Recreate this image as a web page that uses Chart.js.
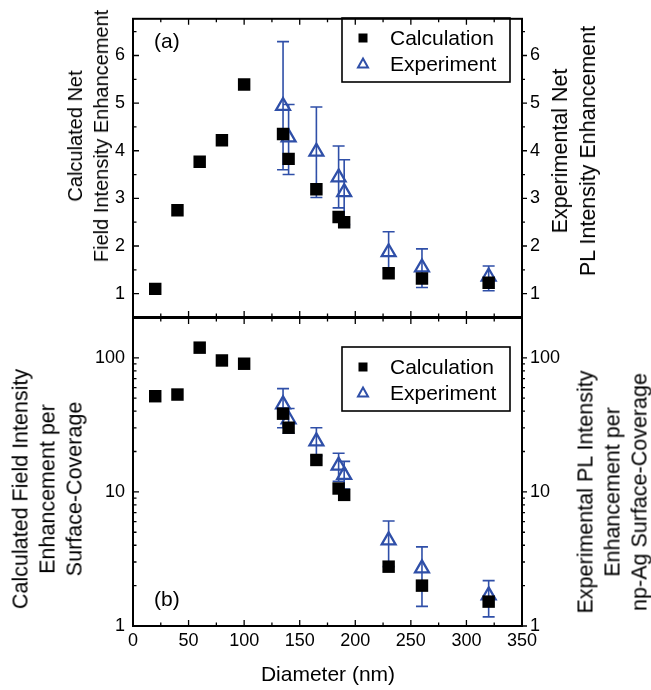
<!DOCTYPE html>
<html>
<head>
<meta charset="utf-8">
<script src="https://cdn.jsdelivr.net/npm/chart.js@4.4.0/dist/chart.umd.min.js"></script>
<style>
  body { margin: 0; background: #fff; }
  #wrap { position: relative; width: 651px; height: 690px; font-family: "Liberation Sans", Arial, sans-serif; }
  canvas { position: absolute; left: 0; top: 0; }
  .ttl { position: absolute; white-space: nowrap; text-align: center; font-size: 20px; line-height: 26px; color: #000;
         transform: translate(-50%, -50%) rotate(-90deg); }
</style>
</head>
<body>
<div id="wrap">
  <canvas id="top-chart" width="651" height="690"></canvas>
  <canvas id="bot-chart" width="651" height="690"></canvas>
  <div class="ttl" style="left:88px;top:136px">Calculated Net<br>Field Intensity Enhancement</div>
  <div class="ttl" style="left:574px;top:151px;font-size:21.5px;line-height:28px">Experimental Net<br>PL Intensity Enhancement</div>
  <div class="ttl" style="left:48px;top:489px;font-size:21.5px;line-height:27px">Calculated Field Intensity<br>Enhancement per<br>Surface-Coverage</div>
  <div class="ttl" style="left:613px;top:492px;font-size:21.5px;line-height:27px">Experimental PL Intensity<br>Enhancement per<br>np-Ag Surface-Coverage</div>
  <div class="ttl" style="left:328px;top:674px;font-size:21px;transform:translate(-50%,-50%)">Diameter (nm)</div>
</div>
<script>
// ======================= DATA =======================
const diameters    = [20, 40, 60, 80, 100, 135, 140, 165, 185, 190, 230, 260, 320];
const expDiameters = [135, 140, 165, 185, 190, 230, 260, 320];

// (a) net enhancement
const calcNet     = [1.10, 2.75, 3.77, 4.22, 5.39, 4.35, 3.83, 3.19, 2.61, 2.50, 1.43, 1.32, 1.23];
const expNet      = [4.94, 4.28, 3.98, 3.44, 3.13, 1.87, 1.55, 1.36];
const expNetLow   = [3.60, 3.50, 3.02, 2.80, 2.45, 1.53, 1.13, 1.06];
const expNetHigh  = [6.29, 4.97, 4.92, 4.10, 3.81, 2.30, 1.94, 1.58];

// (b) enhancement per surface coverage
const calcPerCov     = [51.7, 53.2, 119, 95.5, 90.3, 38.3, 30.1, 17.3, 10.6, 9.5, 2.77, 2.0, 1.52];
const expPerCov      = [44.9, 34.8, 23.8, 15.7, 13.4, 4.35, 2.69, 1.69];
const expPerCovLow   = [30.1, 27.4, 18.6, 12.0, 10.5, 2.77, 1.40, 1.17];
const expPerCovHigh  = [58.9, 41.9, 30.1, 19.4, 16.9, 6.07, 3.89, 2.18];

// ticks
const xMajor = [0, 50, 100, 150, 200, 250, 300, 350];
const xMinor = [25, 75, 125, 175, 225, 275, 325];
const yTopMajor = [1, 2, 3, 4, 5, 6];
const yTopMinor = [0.5, 1.5, 2.5, 3.5, 4.5, 5.5, 6.5];
const yLogMajor = [1, 10, 100];
const yLogMinor = [2, 3, 4, 5, 6, 7, 8, 9, 20, 30, 40, 50, 60, 70, 80, 90, 200];

const BLUE = '#2f4fa8';
const FONT = '"Liberation Sans", Arial, sans-serif';

// ======================= HELPERS =======================
const pts = (xs, ys) => xs.map((x, i) => ({ x: x, y: ys[i] }));

function yAxis(type, min, max, pos, width, majors) {
  return {
    type: type, min: min, max: max, position: pos,
    grid: { display: false, drawTicks: false },
    border: { display: false },
    afterFit: s => { s.width = width; },
    afterBuildTicks: s => { s.ticks = majors.map(v => ({ value: v })); },
    ticks: { color: '#000', font: { family: FONT, size: 18 }, padding: pos === 'left' ? 8 : 8,
             callback: v => String(v) }
  };
}

function datasets(calc, exp) {
  return [
    { label: 'Calculation', data: pts(diameters, calc), pointStyle: 'rect', pointRadius: 8.8,
      backgroundColor: '#000', borderWidth: 0, showLine: false },
    { label: 'Experiment', data: pts(expDiameters, exp), pointStyle: 'triangle', pointRadius: 8,
      backgroundColor: 'rgba(0,0,0,0)', borderColor: BLUE, borderWidth: 2.3, showLine: false }
  ];
}

// frame, inward ticks, error bars, legend, panel letter
function panelPlugin(id, yMaj, yMin, lo, hi, legendTop, letter, letterY) {
  return {
    id: id,
    beforeDatasetsDraw(chart) {
      const { ctx } = chart;
      const xs = chart.scales.x, ys = chart.scales.y;
      ctx.save();
      ctx.strokeStyle = BLUE; ctx.lineWidth = 1.6;
      ctx.beginPath();
      expDiameters.forEach((d, i) => {
        const x = xs.getPixelForValue(d);
        const y1 = ys.getPixelForValue(lo[i]), y2 = ys.getPixelForValue(hi[i]);
        ctx.moveTo(x, y1); ctx.lineTo(x, y2);
        ctx.moveTo(x - 6, y1); ctx.lineTo(x + 6, y1);
        ctx.moveTo(x - 6, y2); ctx.lineTo(x + 6, y2);
      });
      ctx.stroke();
      ctx.restore();
    },
    afterDraw(chart) {
      const { ctx, chartArea: a } = chart;
      const xs = chart.scales.x, ys = chart.scales.y;
      ctx.save();
      ctx.strokeStyle = '#000'; ctx.lineWidth = 2;
      ctx.strokeRect(a.left, a.top, a.right - a.left, a.bottom - a.top);
      ctx.lineWidth = 1.3;
      ctx.beginPath();
      const ln = (x1, y1, x2, y2) => { ctx.moveTo(x1, y1); ctx.lineTo(x2, y2); };
      xMajor.concat(xMinor).forEach(v => {
        const L = xMajor.includes(v) ? 6 : 3.5;
        const x = xs.getPixelForValue(v);
        ln(x, a.top, x, a.top + L); ln(x, a.bottom, x, a.bottom - L);
      });
      yMaj.concat(yMin).forEach(v => {
        if (v < ys.min || v > ys.max) return;
        const maj = yMaj.includes(v);
        const y = ys.getPixelForValue(v);
        ln(a.left, y, a.left + (maj ? 6 : 3.5), y);
        ln(a.right, y, a.right + (maj ? 5 : 3), y);
      });
      ctx.stroke();

      // legend
      const L = { x: 342, y: legendTop, w: 168, h: 64 };
      ctx.lineWidth = 1.6;
      ctx.strokeRect(L.x, L.y, L.w, L.h);
      ctx.fillStyle = '#000';
      ctx.fillRect(363 - 4.5, L.y + 20 - 4.5, 9, 9);
      ctx.strokeStyle = BLUE; ctx.lineWidth = 2;
      ctx.beginPath();
      const ty = L.y + 46;
      ctx.moveTo(363, ty - 5.5); ctx.lineTo(368, ty + 3.5); ctx.lineTo(358, ty + 3.5); ctx.closePath();
      ctx.stroke();
      ctx.fillStyle = '#000';
      ctx.font = '21px ' + FONT;
      ctx.textBaseline = 'middle';
      ctx.fillText('Calculation', 390, L.y + 21);
      ctx.fillText('Experiment', 390, L.y + 47);
      ctx.fillText(letter, 154, letterY);
      ctx.restore();
    }
  };
}

// ======================= (a) TOP PANEL =======================
new Chart(document.getElementById('top-chart'), {
  type: 'scatter',
  data: { datasets: datasets(calcNet, expNet) },
  options: {
    responsive: false, animation: false, devicePixelRatio: 1,
    layout: { padding: { top: 8, bottom: 373, left: 0, right: 0 } },
    plugins: { legend: { display: false }, tooltip: { enabled: false } },
    scales: {
      x: { type: 'linear', min: 0, max: 350, display: false },
      y: yAxis('linear', 0.51, 6.77, 'left', 133, yTopMajor),
      y2: yAxis('linear', 0.51, 6.77, 'right', 129, yTopMajor)
    }
  },
  plugins: [panelPlugin('panelA', yTopMajor, yTopMinor, expNetLow, expNetHigh, 18, '(a)', 42)]
});

// ======================= (b) BOTTOM PANEL =======================
new Chart(document.getElementById('bot-chart'), {
  type: 'scatter',
  data: { datasets: datasets(calcPerCov, expPerCov) },
  options: {
    responsive: false, animation: false, devicePixelRatio: 1,
    layout: { padding: { top: 318, bottom: 0, left: 0, right: 0 } },
    plugins: { legend: { display: false }, tooltip: { enabled: false } },
    scales: {
      x: {
        type: 'linear', min: 0, max: 350, position: 'bottom',
        grid: { display: false, drawTicks: false }, border: { display: false },
        afterFit: s => { s.height = 64; },
        afterBuildTicks: s => { s.ticks = xMajor.map(v => ({ value: v })); },
        ticks: { color: '#000', font: { family: FONT, size: 18 }, padding: 4, maxRotation: 0 }
      },
      y: yAxis('logarithmic', 1, 198, 'left', 133, yLogMajor),
      y2: yAxis('logarithmic', 1, 198, 'right', 129, yLogMajor)
    }
  },
  plugins: [panelPlugin('panelB', yLogMajor, yLogMinor, expPerCovLow, expPerCovHigh, 347, '(b)', 600)]
});
</script>
</body>
</html>
